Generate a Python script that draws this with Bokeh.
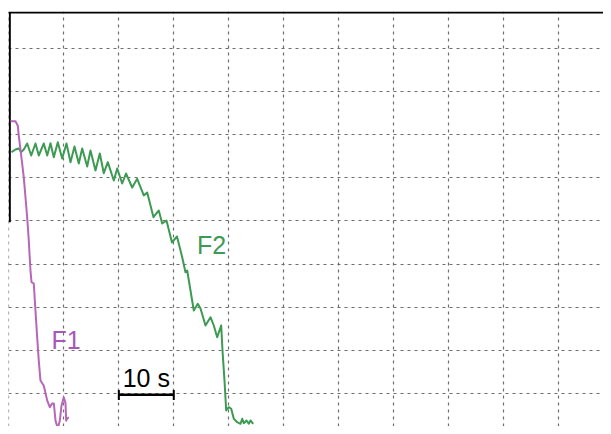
from bokeh.plotting import figure
from bokeh.models import Grid, FixedTicker, ColumnDataSource
from bokeh.core.properties import value
from bokeh.embed import file_html
from bokeh.resources import INLINE

# ---- data (time in s, signal in grid units) ----
f1_t = [0.27, 1.18, 1.60, 1.78, 2.40, 2.69, 3.00, 3.31, 3.60, 3.91, 4.10, 4.51, 4.82, 5.13,
        5.42, 5.73, 6.34, 6.95, 7.43, 7.86, 8.16, 8.47, 8.88, 9.25, 9.56, 9.98, 10.29,
        10.41, 10.60, 10.89]
f1_v = [7.31, 7.31, 7.21, 6.98, 6.33, 6.01, 5.55, 5.08, 4.55, 3.85, 3.58, 3.55, 2.92, 2.30,
        1.76, 1.30, 1.18, 0.84, 0.68, 0.77, 0.77, 0.37, 0.19, 0.37, 0.72, 0.91, 0.77,
        0.37, 0.42, 0.45]

f2_t = [0.455, 1.183, 1.784, 2.221, 2.694, 3.313, 4.042, 4.824, 5.425, 6.335, 6.954, 7.555,
        8.156, 8.884, 9.685, 10.468, 11.196, 11.924, 12.707, 13.326, 14.236, 14.837, 15.747,
        16.530, 17.258, 17.987, 19.079, 19.698, 20.608, 21.30, 22.429, 23.339, 24.540,
        25.159, 26.306, 27.271, 27.890, 28.673, 29.674, 30.584, 31.531, 32.132, 32.441,
        33.042, 33.643, 34.371, 34.863, 35.773, 36.683, 37.284, 37.903, 38.631, 38.868,
        39.232, 39.541, 40.015, 40.452, 40.925, 41.544, 42.145, 42.454, 42.745, 43.237,
        43.656, 43.965, 44.457]
f2_v = [6.595, 6.657, 6.681, 6.595, 6.657, 6.797, 6.518, 6.797, 6.518, 6.797, 6.518, 6.803,
        6.479, 6.827, 6.449, 6.797, 6.363, 6.727, 6.333, 6.681, 6.263, 6.634, 6.170,
        6.565, 6.108, 6.363, 5.938, 6.217, 5.869, 6.101, 5.776, 5.978, 5.591,
        5.660, 5.087, 5.243, 4.941, 5.011, 4.501, 4.640, 4.160, 3.812, 3.852,
        3.388, 2.924, 3.079, 2.970, 2.576, 2.769, 2.576, 2.305, 2.576, 1.997,
        1.301, 0.605, 0.682, 0.645, 0.413, 0.334, 0.297, 0.413, 0.311, 0.373,
        0.297, 0.373, 0.297]

x_ticks = [0, 10, 20, 30, 40, 50, 60, 70, 80, 90, 100]
y_ticks = [1, 2, 3, 4, 5, 6, 7, 8, 9]

labels = ["F1", "F2"]
label_t = [10.4, 36.9]
label_v = [2.25, 4.45]
label_colors = ["#a957b9", "#3d9a55"]

scale_start = 20
scale_end = 30
scale_level = 0.97
scale_text = "10 s"
top_level = 9.834
axis_break = 4.97

p = figure(width=603, height=426, output_backend="svg", toolbar_location=None,
           x_range=(-0.09, 108.23), y_range=(0.234, 9.857),
           x_axis_location=None, y_axis_location=None,
           min_border_left=8, min_border_right=0, min_border_top=11, min_border_bottom=0,
           background_fill_color="white", border_fill_color="white")
p.outline_line_color = None
p.grid.visible = False

grid_style = dict(grid_line_color="#6e6e6e", grid_line_dash="3 4", grid_line_width=1.2)
p.add_layout(Grid(dimension=0, ticker=FixedTicker(ticks=x_ticks), **grid_style))
p.add_layout(Grid(dimension=1, ticker=FixedTicker(ticks=y_ticks), **grid_style))

# frame lines (top and upper-left)
p.segment(x0=[-0.09], y0=[top_level], x1=[108.23], y1=[top_level], line_color="black", line_width=2.2)
p.segment(x0=[0.15], y0=[axis_break], x1=[0.15], y1=[top_level], line_color="black", line_width=2)

# traces
p.line(f2_t, f2_v, line_color="#3d9a52", line_width=2, line_join="round")
p.line(f1_t, f1_v, line_color="#b866b8", line_width=2, line_join="round")

# labels
src = ColumnDataSource(dict(x=label_t, y=label_v, text=labels, color=label_colors))
p.text(x="x", y="y", text="text", text_color="color", source=src, text_align="center",
       text_baseline="alphabetic", text_font=value("Liberation Sans"), text_font_size="25px")

# scale bar
p.segment(x0=[scale_start], y0=[scale_level], x1=[scale_end], y1=[scale_level],
          line_color="black", line_width=2.5)
p.segment(x0=[scale_start, scale_end], y0=[scale_level - 0.12, scale_level - 0.12],
          x1=[scale_start, scale_end], y1=[scale_level + 0.11, scale_level + 0.11],
          line_color="black", line_width=2)
p.text(x=[(scale_start + scale_end) / 2], y=[scale_level + 0.38], text=[scale_text],
       text_align="center", text_baseline="alphabetic", text_color="black",
       text_font=value("Liberation Sans"), text_font_size="25px")

open("out.html", "w").write(file_html(p, INLINE))
